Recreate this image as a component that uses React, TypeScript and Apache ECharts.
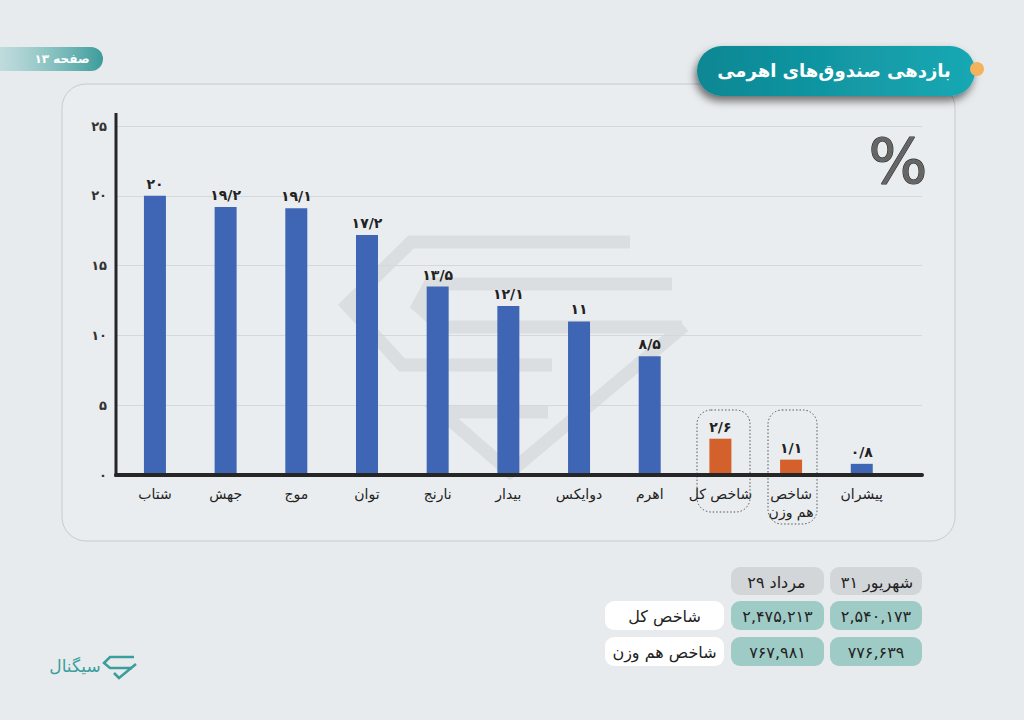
import React, { useEffect, useRef } from 'react';
import * as echarts from 'echarts';

const categories = ['شتاب', 'جهش', 'موج', 'توان', 'نارنج', 'بیدار', 'دوایکس', 'اهرم', 'شاخص کل', 'شاخص\nهم وزن', 'پیشران'];
const returns = [20, 19.2, 19.1, 17.2, 13.5, 12.1, 11, 8.5, 2.6, 1.1, 0.8];
const isMarketIndex = [false, false, false, false, false, false, false, false, true, true, false];
const yTickStep = 5;
const yMax = 25;

const tableDayNumbers = ['۳۱', '۲۹'];
const tableMonths = ['شهریور', 'مرداد'];
const tableIndexNames = ['شاخص کل', 'شاخص هم وزن'];
const shahrivarValues = [2540173, 776639];
const mordadValues = [2475213, 767981];

const FA = '۰۱۲۳۴۵۶۷۸۹';
const toFa = (s: string) => s.replace(/\d/g, (d) => FA[+d]).replace(/\./g, '/');
const fmt = (n: number) => toFa(n.toString().replace(/\B(?=(\d{3})+(?!\d))/g, ','));

const FONT = "'DejaVu Sans', sans-serif";
const BLUE = '#3e66b5';
const ORANGE = '#d4612b';
const BG = '#e8ebed';

function txt(x: number, y: number, text: string, size: number, fill: string, weight: string = 'normal', z = 10, align = 'center') {
  return {
    type: 'text', x, y, z,
    style: { text, fill, fontSize: size, fontFamily: FONT, fontWeight: weight, align, verticalAlign: 'middle' },
  };
}

function cell(x: number, y: number, w: number, h: number, fill: string, text: string) {
  return [
    { type: 'rect', z: 5, shape: { x, y, width: w, height: h, r: 9 }, style: { fill } },
    txt(x + w / 2, y + h / 2 + 1, text, 16, '#222', 'normal', 6),
  ];
}

function dateCell(x: number, y: number, w: number, h: number, fill: string, day: string, month: string, monthW: number) {
  const cx = x + w / 2;
  const total = 19 + 5 + monthW;
  const start = cx - total / 2;
  return [
    { type: 'rect', z: 5, shape: { x, y, width: w, height: h, r: 9 }, style: { fill } },
    txt(start + 19, y + h / 2 + 1, day, 16, '#222', 'normal', 6, 'right'),
    txt(start + 24, y + h / 2 + 1, month, 16, '#222', 'normal', 6, 'left'),
  ];
}

export default function App() {
  const ref = useRef<HTMLDivElement>(null);
  useEffect(() => {
    document.body.style.margin = '0';
    const chart = echarts.init(ref.current!, null, { renderer: 'svg' });
    const wm = '#dbdee1';
    const wmLine = (pts: number[][]) => ({
      type: 'polyline', z: -5, shape: { points: pts },
      style: { stroke: wm, lineWidth: 13, fill: 'none', lineJoin: 'miter' },
    });
    const graphic: any[] = [
      // card
      { type: 'rect', z: -10, shape: { x: 62, y: 84, width: 893, height: 457, r: 24 }, style: { fill: '#eaedef', stroke: '#c7cbcf', lineWidth: 1 } },
      // watermark
      wmLine([[630, 242], [411, 242], [347, 305], [402, 365], [552, 365]]),
      wmLine([[672, 284], [430, 284], [418, 306], [442, 327], [682, 327]]),
      wmLine([[548, 412], [441, 412], [510, 472], [684, 326]]),
      // y axis line
      { type: 'line', z: 8, shape: { x1: 116, y1: 113, x2: 116, y2: 477 }, style: { stroke: '#262626', lineWidth: 3 } },
      // page label
      {
        type: 'rect', z: 5, shape: { x: -30, y: 47, width: 133, height: 24, r: 12 },
        style: { fill: new echarts.graphic.LinearGradient(0, 0, 1, 0, [{ offset: 0, color: 'rgba(150,205,205,0.2)' }, { offset: 1, color: '#3a9c9a' }]) },
      },
      txt(62, 59, 'صفحه ۱۳', 12, '#ffffff', 'bold', 6),
      // title pill
      {
        type: 'rect', z: 5, shape: { x: 697, y: 46, width: 278, height: 50, r: 25 },
        style: {
          fill: new echarts.graphic.LinearGradient(0, 0, 1, 0, [{ offset: 0, color: '#0c8793' }, { offset: 1, color: '#17a8b4' }]),
          shadowBlur: 8, shadowColor: 'rgba(0,0,0,0.55)', shadowOffsetX: -2, shadowOffsetY: 5,
        },
      },
      txt(834, 70, 'بازدهی صندوق‌های اهرمی', 18, '#ffffff', 'bold', 6),
      { type: 'circle', z: 7, shape: { cx: 977, cy: 69, r: 7 }, style: { fill: '#f5b25c' } },
      // percent sign
      {
        type: 'text', x: 898, y: 161, z: 6,
        style: { text: '%', fontSize: 62, fontFamily: FONT, fill: '#666666', stroke: '#2c2c2c', lineWidth: 1.2, align: 'center', verticalAlign: 'middle' },
      },
      // dotted boxes
      { type: 'rect', z: 4, shape: { x: 697, y: 410, width: 53, height: 102, r: 14 }, style: { fill: 'none', stroke: '#555', lineWidth: 1, lineDash: [1.5, 2] } },
      { type: 'rect', z: 4, shape: { x: 768, y: 410, width: 49, height: 114, r: 14 }, style: { fill: 'none', stroke: '#555', lineWidth: 1, lineDash: [1.5, 2] } },
      // logo
      txt(75, 666, 'سیگنال', 17, '#3a9e9c', 'normal', 6),
      {
        type: 'polyline', z: 6, shape: { points: [[134, 657], [110, 657], [104, 663], [110, 668], [132, 668]] },
        style: { stroke: '#3a9e9c', lineWidth: 2.5, fill: 'none' },
      },
      {
        type: 'polyline', z: 6, shape: { points: [[114, 673], [119, 678], [136, 664]] },
        style: { stroke: '#3a9e9c', lineWidth: 2.5, fill: 'none' },
      },
    ];
    // table
    const colShahrivar = { x: 830, w: 92 };
    const colMordad = { x: 731, w: 93 };
    const colName = { x: 605, w: 119 };
    graphic.push(...dateCell(colShahrivar.x, 567, colShahrivar.w, 28, '#d3d6d9', tableDayNumbers[0], tableMonths[0], 50));
    graphic.push(...dateCell(colMordad.x, 567, colMordad.w, 28, '#d3d6d9', tableDayNumbers[1], tableMonths[1], 40));
    const rowY = [601, 637];
    tableIndexNames.forEach((name, i) => {
      graphic.push(...cell(colName.x, rowY[i], colName.w, 29, '#ffffff', name));
      graphic.push(...cell(colMordad.x, rowY[i], colMordad.w, 29, '#9fcbc6', fmt(mordadValues[i])));
      graphic.push(...cell(colShahrivar.x, rowY[i], colShahrivar.w, 29, '#9fcbc6', fmt(shahrivarValues[i])));
    });

    chart.setOption({
      animation: false,
      backgroundColor: BG,
      textStyle: { fontFamily: FONT },
      grid: [
        { left: 119.6, top: 126, width: 777.5, height: 349 },
        { left: 116, top: 126, width: 806, height: 349 },
      ],
      xAxis: [
        {
          type: 'category', gridIndex: 0, data: categories,
          axisLine: { show: false }, axisTick: { show: false },
          axisLabel: { interval: 0, margin: 10, fontSize: 14, color: '#222', fontFamily: FONT, lineHeight: 18 },
        },
        {
          type: 'value', gridIndex: 1, min: 0, max: 1,
          axisLabel: { show: false }, axisTick: { show: false }, splitLine: { show: false },
          axisLine: { show: true, onZero: false, lineStyle: { color: '#262626', width: 4 } }, z: 6,
        },
      ],
      yAxis: [
        { type: 'value', gridIndex: 0, min: 0, max: yMax, interval: yTickStep, show: false },
        {
          type: 'value', gridIndex: 1, min: 0, max: yMax, interval: yTickStep,
          axisLine: { show: false }, axisTick: { show: false },
          splitLine: { lineStyle: { color: '#d4d8db', width: 1 } },
          axisLabel: { formatter: (v: number) => toFa(String(v)), fontSize: 13, color: '#333', margin: 9, fontFamily: FONT, fontWeight: 'bold' },
        },
      ],
      series: [
        {
          type: 'bar', xAxisIndex: 0, yAxisIndex: 0, barWidth: 22, z: 3,
          data: returns.map((v, i) => ({ value: v, itemStyle: { color: isMarketIndex[i] ? ORANGE : BLUE } })),
          label: {
            show: true, position: 'top', distance: 5,
            formatter: (p: any) => toFa(String(p.value)),
            fontSize: 14, fontWeight: 'bold', color: '#222', fontFamily: FONT,
          },
        },
        { type: 'line', xAxisIndex: 1, yAxisIndex: 1, data: [] },
      ],
      graphic,
    });
    return () => chart.dispose();
  }, []);
  return <div ref={ref} style={{ width: 1024, height: 720 }} />;
}
